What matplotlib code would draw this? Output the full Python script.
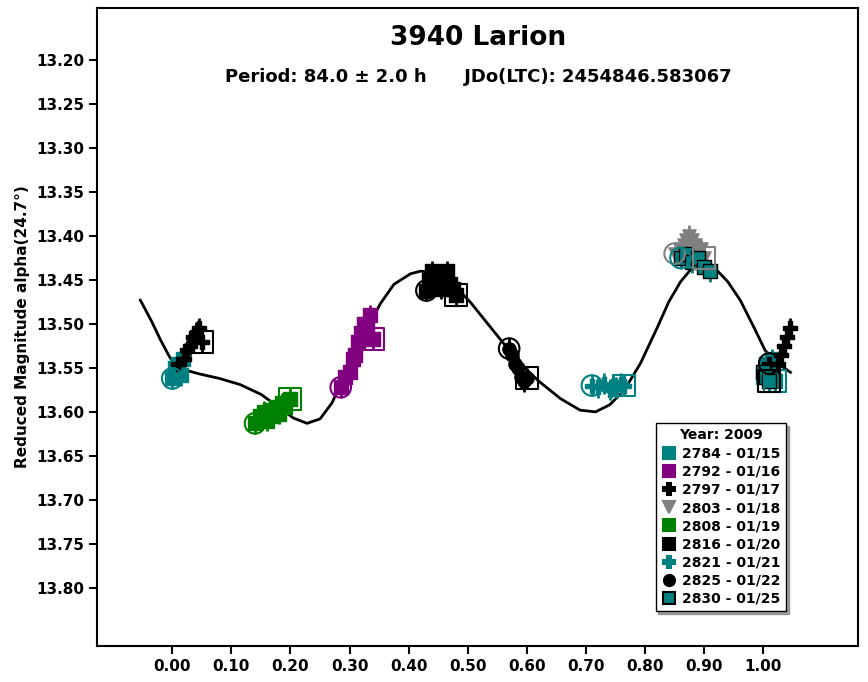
import matplotlib
matplotlib.use('Agg')
import matplotlib.pyplot as plt
from matplotlib.lines import Line2D

# fitted curve
CURVE_PHASE = [-0.054, -0.035, -0.020, -0.005, 0.005, 0.025, 0.047, 0.080, 0.115, 0.150, 0.183, 0.205,
               0.228, 0.250, 0.270, 0.284, 0.310, 0.330, 0.352, 0.375, 0.403, 0.420, 0.437, 0.460,
               0.480, 0.504, 0.540, 0.570, 0.589, 0.620, 0.657, 0.690, 0.716, 0.740, 0.765, 0.792,
               0.820, 0.840, 0.860, 0.880, 0.902, 0.920, 0.940, 0.961, 0.985, 1.003, 1.025, 1.046]
CURVE_MAG = [13.473, 13.497, 13.518, 13.537, 13.547, 13.553, 13.557, 13.562, 13.569, 13.580, 13.596, 13.607,
             13.613, 13.608, 13.590, 13.570, 13.535, 13.505, 13.477, 13.455, 13.443, 13.440, 13.441, 13.448,
             13.458, 13.475, 13.505, 13.530, 13.545, 13.565, 13.585, 13.598, 13.600, 13.592, 13.575, 13.545,
             13.505, 13.475, 13.452, 13.436, 13.433, 13.438, 13.452, 13.473, 13.505, 13.530, 13.545, 13.555]

SESSIONS = ['2784 - 01/15', '2792 - 01/16', '2797 - 01/17', '2803 - 01/18', '2808 - 01/19',
            '2816 - 01/20', '2821 - 01/21', '2825 - 01/22', '2830 - 01/25']

PH_2784 = [0.000, 0.005, 0.010, 0.014, 0.018, 1.000, 1.005, 1.010, 1.015, 1.020]
MG_2784 = [13.562, 13.550, 13.545, 13.558, 13.540, 13.560, 13.545, 13.555, 13.540, 13.565]
PH_2792 = [0.285, 0.292, 0.300, 0.305, 0.310, 0.315, 0.320, 0.325, 0.330, 0.335, 0.340]
MG_2792 = [13.572, 13.560, 13.555, 13.540, 13.535, 13.520, 13.510, 13.500, 13.505, 13.490, 13.517]
PH_2797 = [1.010, 1.025, 1.030, 1.035, 1.040, 1.045, 0.010, 0.020, 0.025, 0.030, 0.035, 0.040, 0.045, 0.050]
MG_2797 = [13.545, 13.545, 13.535, 13.525, 13.515, 13.505, 13.545, 13.540, 13.530, 13.525, 13.515, 13.510, 13.505, 13.520]
PH_2803 = [0.850, 0.860, 0.865, 0.870, 0.875, 0.880, 0.885, 0.890, 0.895, 0.900]
MG_2803 = [13.420, 13.415, 13.410, 13.405, 13.400, 13.405, 13.410, 13.420, 13.415, 13.425]
PH_2808 = [0.140, 0.148, 0.155, 0.160, 0.165, 0.170, 0.175, 0.180, 0.185, 0.190, 0.200]
MG_2808 = [13.613, 13.605, 13.600, 13.610, 13.598, 13.605, 13.595, 13.602, 13.590, 13.595, 13.585]
PH_2816 = [0.430, 0.435, 0.440, 0.445, 0.450, 0.455, 0.460, 0.465, 0.470, 0.475, 0.480]
MG_2816 = [13.462, 13.450, 13.440, 13.455, 13.445, 13.460, 13.450, 13.440, 13.455, 13.460, 13.467]
PH_2821 = [0.710, 0.720, 0.730, 0.740, 0.745, 0.750, 0.760, 0.765]
MG_2821 = [13.570, 13.572, 13.568, 13.575, 13.570, 13.572, 13.568, 13.570]
PH_2825 = [0.570, 0.575, 0.580, 0.585, 0.590, 0.595, 0.600]
MG_2825 = [13.528, 13.535, 13.545, 13.550, 13.560, 13.565, 13.562]
PH_2830 = [0.860, 0.870, 0.880, 0.890, 0.900, 0.910, 1.000, 1.005, 1.010]
MG_2830 = [13.425, 13.420, 13.430, 13.425, 13.435, 13.440, 13.555, 13.560, 13.565]

STYLE = [('s', '#008080', '#008080'), ('s', '#800080', '#800080'), ('P', 'black', 'black'),
         ('v', 'gray', 'gray'), ('s', '#008000', '#008000'), ('s', 'black', 'black'),
         ('P', '#008080', '#008080'), ('o', 'black', 'black'), ('s', '#008080', 'black')]
DATA = [(PH_2784, MG_2784), (PH_2792, MG_2792), (PH_2797, MG_2797), (PH_2803, MG_2803),
        (PH_2808, MG_2808), (PH_2816, MG_2816), (PH_2821, MG_2821), (PH_2825, MG_2825),
        (PH_2830, MG_2830)]

fig = plt.figure(figsize=(8.68, 6.82), dpi=100)
ax = fig.add_axes([0.112, 0.053, 0.877, 0.935])

ax.plot(CURVE_PHASE, CURVE_MAG, color='black', lw=2, zorder=2)
for (ph, mg), (m, fc, ec) in zip(DATA, STYLE):
    ax.errorbar(ph, mg, yerr=0.012, fmt='none', ecolor=fc, elinewidth=2, zorder=3)
    ax.scatter(ph, mg, marker=m, s=90, c=fc, edgecolors=ec, linewidths=1, zorder=4)
    ax.scatter(ph[0], mg[0], marker='o', s=220, facecolors='none', edgecolors=fc, linewidths=1.5, zorder=5)
    ax.scatter(ph[-1], mg[-1], marker='s', s=250, facecolors='none', edgecolors=ec, linewidths=1.5, zorder=5)

ax.set_xlim(-0.127, 1.161)
ax.set_ylim(13.866, 13.141)
ax.set_xticks([0.0, 0.1, 0.2, 0.3, 0.4, 0.5, 0.6, 0.7, 0.8, 0.9, 1.0])
ax.set_xticklabels(['%.2f' % v for v in ax.get_xticks()], fontweight='bold', fontsize=11)
yt = [13.20, 13.25, 13.30, 13.35, 13.40, 13.45, 13.50, 13.55, 13.60, 13.65, 13.70, 13.75, 13.80]
ax.set_yticks(yt)
ax.set_yticklabels(['%.2f' % v for v in yt], fontweight='bold', fontsize=11)
ax.tick_params(direction='out', length=6, width=1.5)
for s in ax.spines.values():
    s.set_linewidth(1.5)
ax.set_ylabel('Reduced Magnitude alpha(24.7°)', fontweight='bold', fontsize=11)

ax.text(0.5, 0.943, '3940 Larion', transform=ax.transAxes, ha='center', fontsize=19, fontweight='bold')
ax.text(0.5, 0.884, 'Period: 84.0 ± 2.0 h      JDo(LTC): 2454846.583067', transform=ax.transAxes,
        ha='center', fontsize=13, fontweight='bold')

handles = [Line2D([], [], ls='none', marker=m, color=fc, markerfacecolor=fc,
                  markeredgecolor=ec, markersize=8, markeredgewidth=1.5) for m, fc, ec in STYLE]
leg = ax.legend(handles, SESSIONS, title='Year: 2009', loc='lower right', bbox_to_anchor=(0.914, 0.043),
                fontsize=10, title_fontproperties={'weight': 'bold', 'size': 10}, fancybox=False,
                shadow=True, framealpha=1, edgecolor='black', handletextpad=0.3, labelspacing=0.3,
                handlelength=1.2, borderpad=0.4)
for t in leg.get_texts():
    t.set_fontweight('bold')

fig.savefig('out.png', dpi=100)
